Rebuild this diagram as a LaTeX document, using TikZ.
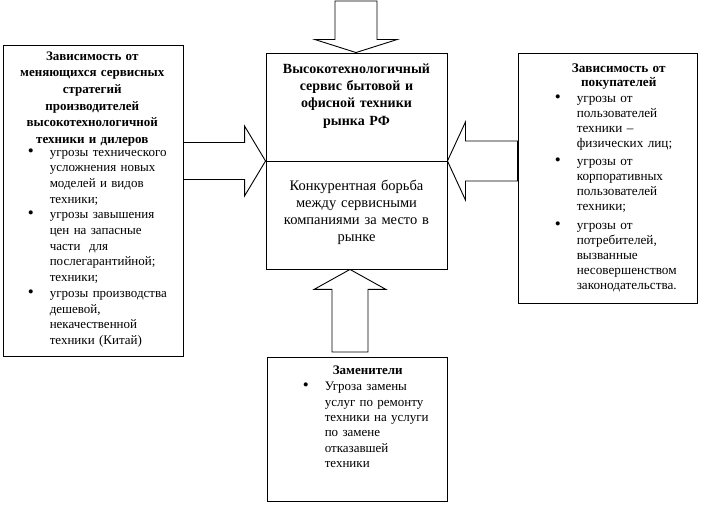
\documentclass[tikz,border=0pt]{standalone}
\usepackage{fontspec}
\setmainfont{Liberation Serif}
\usetikzlibrary{positioning,calc}
\newlength{\punktein}
\newcommand{\punkt}[1]{\par\hangindent=\punktein\hangafter=0\noindent\llap{{\fontsize{17}{0}\selectfont\textbullet}\hspace{16pt}}#1\par}
\begin{document}
\begin{tikzpicture}[x=1pt,y=-1pt]
  \tikzstyle{kasten}=[draw, line width=0.9pt, inner sep=0pt]
  \tikzstyle{textblock}=[inner sep=0pt, align=left]
  \tikzstyle{pfeil}=[draw, line width=0.9pt, line join=miter]
  \useasboundingbox (0,0) rectangle (702,505);
  \node[kasten, minimum width=180pt, minimum height=311pt] (links) at (93,200.5) {};
  \node[kasten, minimum width=181pt, minimum height=216pt] (zentrum) at (356.5,161) {};
  \node[kasten, minimum width=179pt, minimum height=250pt] (rechts) at (607.5,178) {};
  \node[kasten, minimum width=180pt, minimum height=144pt] (unten) at (357,429) {};
  \draw[line width=0.9pt] (zentrum.west) -- (zentrum.east);
  % Blockpfeile
  \coordinate (oS) at (356,1);
  \coordinate (oT) at (oS |- zentrum.north);
  \coordinate (lS) at (links.east |- zentrum.west);
  \coordinate (rS) at (rechts.west |- zentrum.west);
  \coordinate (uS) at (350,352);
  \coordinate (uT) at (uS |- zentrum.south);
  \foreach \von/\nach/\h/\H/\w in {oS/oT/13/41/21, lS/zentrum.west/21/35/18.5,
      rS/zentrum.east/18/39/20, uS/uT/20/36/18} {
    \coordinate (B) at ($(\nach)!\h pt!(\von)$);
    \draw[pfeil] ($(\von)!\w pt!90:(\nach)$) -- ($(B)!\w pt!90:(\nach)$)
      -- ($(B)!\H pt!90:(\nach)$) -- (\nach) -- ($(B)!\H pt!-90:(\nach)$)
      -- ($(B)!\w pt!-90:(\nach)$) -- ($(\von)!\w pt!-90:(\nach)$) -- cycle;
  }
  % Texte
  \node[textblock, text width=165pt, below right=7pt and 7pt of links.north west,
      font=\fontsize{13}{15.7}\selectfont] (linkstext) {%
    \setlength{\punktein}{40pt}%
    {\centering\bfseries\fontsize{13}{16.6}\selectfont Зависимость от\\ меняющихся сервисных\\
      стратегий\\ производителей\\ высокотехнологичной\\ техники и дилеров\par}
    \vspace{-3pt}
    \punkt{угрозы технического\newline усложнения новых\newline моделей и видов\newline техники;}
    \punkt{угрозы завышения\newline цен на запасные\newline части\ \ для\newline послегарантийной;\newline техники;}
    \punkt{угрозы производства\newline дешевой,\newline некачественной\newline техники (Китай)}};
  \node[textblock, align=center, text width=175pt, below=11pt of zentrum.north,
      font=\bfseries\fontsize{14}{17.3}\selectfont] (titel)
    {Высокотехнологичный\\ сервис бытовой и\\ офисной техники\\ рынка РФ};
  \node[textblock, align=center, text width=175pt, below=19pt of zentrum.center,
      font=\fontsize{14.5}{17}\selectfont] (kampf)
    {Конкурентная борьба\\ между сервисными\\ компаниями за место в\\ рынке};
  \node[textblock, text width=146pt, below right=11pt and 28pt of rechts.north west,
      font=\fontsize{13.2}{15}\selectfont] (rechtstext) {%
    \setlength{\punktein}{31pt}%
    {\centering\bfseries\fontsize{13.2}{14.5}\selectfont Зависимость от\\ покупателей\par}
    \vspace{1pt}
    \punkt{угрозы от\newline пользователей\newline техники --\newline физических лиц;}
    \vspace{3pt}
    \punkt{угрозы от\newline корпоративных\newline пользователей\newline техники;}
    \vspace{4pt}
    \punkt{угрозы от\newline потребителей,\newline вызванные\newline несовершенством\newline законодательства.}};
  \node[textblock, text width=156pt, below right=9pt and 23pt of unten.north west,
      font=\fontsize{13}{15.4}\selectfont] (untentext) {%
    \setlength{\punktein}{35pt}%
    {\centering\bfseries Заменители\par}
    \vspace{1pt}
    \punkt{Угроза замены\newline услуг по ремонту\newline техники на услуги\newline по замене\newline отказавшей\newline техники}};
\end{tikzpicture}
\end{document}
